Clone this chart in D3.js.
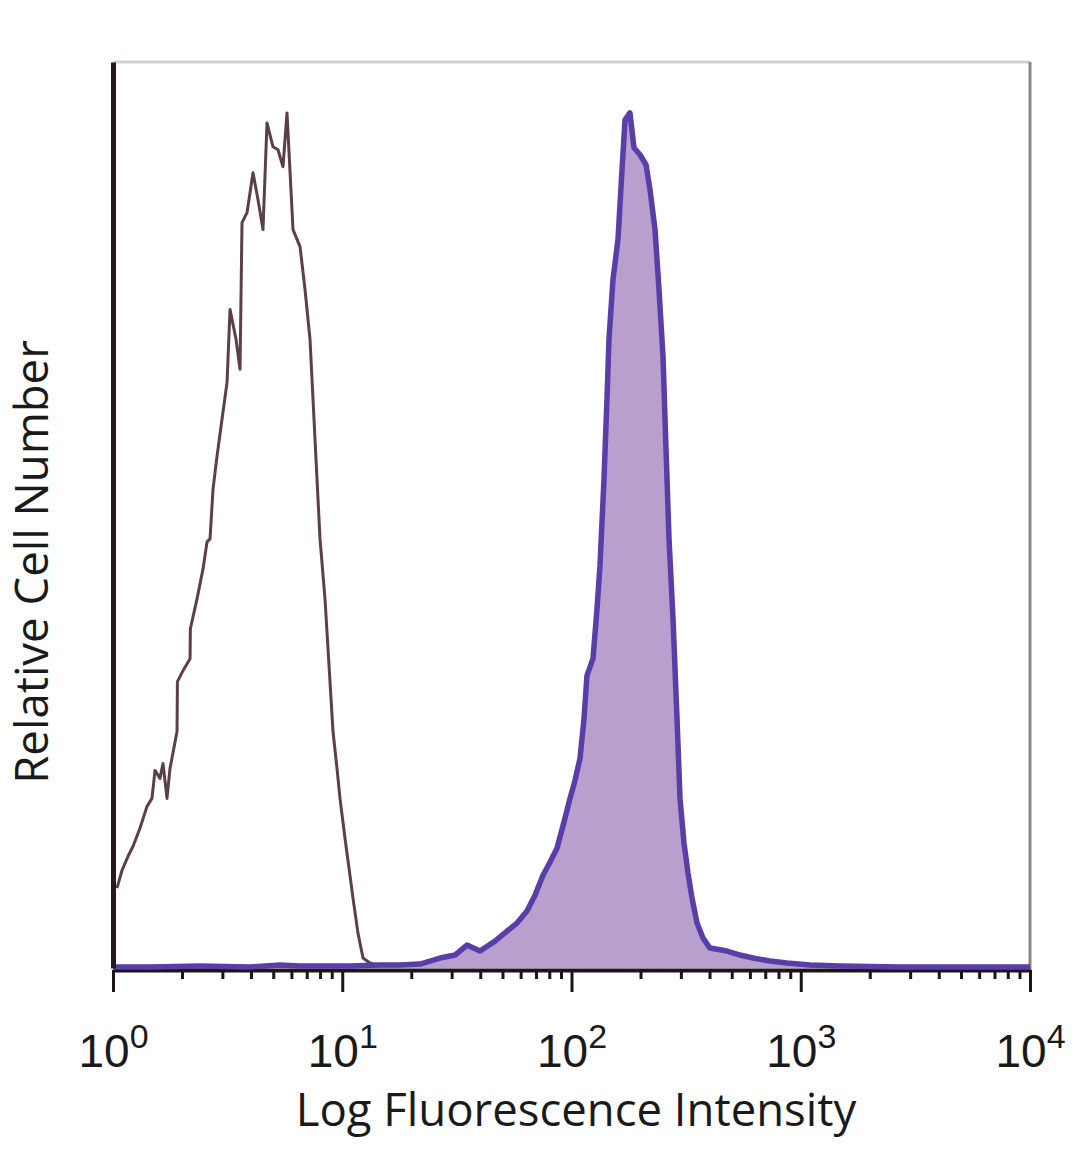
<!DOCTYPE html>
<html>
<head>
<meta charset="utf-8">
<script src="https://cdn.jsdelivr.net/npm/d3@7"></script>
<style>
  body { margin: 0; background: #fff; }
  svg { display: block; }
</style>
</head>
<body>
<div id="chart"></div>
<script>
// isotype control (open histogram): fluorescence value, relative count
var isoX = [1.041, 1.095, 1.163, 1.223, 1.311, 1.407, 1.479, 1.525, 1.603, 1.652, 1.720, 1.773,
            1.902, 1.91, 2.020, 2.168, 2.175, 2.325, 2.470, 2.571, 2.650, 2.731, 2.843, 2.989,
            3.144, 3.240, 3.441, 3.581, 3.654, 3.842, 4.081, 4.291, 4.511, 4.696, 4.988, 5.245,
            5.515, 5.741, 6.098, 6.543, 6.880, 7.234, 7.606, 7.998, 8.409, 9.113, 9.486, 9.777,
            10.28, 11.14, 11.71, 12.32, 13.21, 14.18, 16.15];
var isoY = [8.81, 10.79, 12.33, 13.44, 15.42, 17.84, 18.72, 21.81, 20.93, 22.58, 18.72, 22.03,
            26.10, 31.61, 32.82, 34.14, 37.44, 40.75, 44.05, 47.03, 47.36, 52.86, 56.50, 60.57,
            64.65, 72.69, 69.38, 66.08, 82.27, 83.37, 87.78, 84.80, 81.50, 93.28, 90.64, 90.31,
            88.44, 94.38, 81.50, 79.63, 74.89, 69.38, 58.37, 47.36, 40.75, 26.10, 22.03, 18.72,
            14.32, 7.71, 3.85, 1.10, 0.55, 0.33, 0.22];

// stained sample (filled histogram)
var stainX = [1.000, 1.450, 2.396, 3.960, 5.353, 6.543, 10.81, 14.61, 17.86, 21.84, 26.69, 31.03,
              35.01, 39.89, 46.39, 52.32, 57.84, 63.95, 69.32, 75.10, 80.58, 86.44, 93.66, 98.51,
              103.6, 108.9, 113.4, 116.8, 124.1, 129.2, 133.1, 138.6, 142.8, 145.7, 151.7, 159.5,
              166.1, 171.2, 179.9, 187.3, 199.0, 211.4, 220.0, 231.4, 240.8, 250.7, 258.4, 266.3,
              277.2, 288.6, 297.4, 309.6, 322.3, 335.5, 352.8, 374.7, 401.9, 476.8, 543.3, 619.0,
              734.4, 871.0, 1098, 1483, 2710, 4478, 10000];
var stainY = [0.11, 0.11, 0.22, 0.11, 0.33, 0.22, 0.22, 0.33, 0.33, 0.44, 1.10, 1.43,
              2.53, 1.87, 2.97, 4.07, 4.96, 6.28, 8.04, 10.24, 11.67, 13.22, 16.52, 18.72,
              20.70, 23.13, 27.53, 32.27, 34.14, 39.65, 44.38, 53.96, 62.78, 69.38, 75.99, 80.40,
              88.11, 93.61, 94.38, 90.53, 89.76, 88.66, 85.90, 81.50, 74.89, 67.51, 57.27, 47.36,
              38.55, 27.53, 18.72, 13.77, 10.46, 7.71, 4.96, 3.30, 2.20, 1.87, 1.43, 1.10,
              0.77, 0.55, 0.33, 0.22, 0.11, 0.11, 0.11];

var majorTicks = [1, 10, 100, 1000, 10000];
var tickExps = ["0", "1", "2", "3", "4"];
var xTitle = "Log Fluorescence Intensity";
var yTitle = "Relative Cell Number";

var W = 1080, H = 1169,
    pLeft = 113, pRight = 1030, pTop = 62, pBottom = 970;

var x = d3.scaleLog().domain([1, 10000]).range([pLeft, pRight]);
var y = d3.scaleLinear().domain([0, 100]).range([pBottom - 2, pTop]);

var svg = d3.select("#chart").append("svg")
    .attr("width", W)
    .attr("height", H);

var iso = isoX.map(function(v, i) { return [v, isoY[i]]; });
var stain = stainX.map(function(v, i) { return [v, stainY[i]]; });

var minor = [];
for (var e = 0; e < 4; e++) {
  for (var m = 2; m < 10; m++) minor.push(m * Math.pow(10, e));
}

// frame: top light, right grey
svg.append("line")
    .attr("x1", pLeft).attr("x2", pRight).attr("y1", pTop).attr("y2", pTop)
    .attr("stroke", "#d4d0d0").attr("stroke-width", 3);
svg.append("line")
    .attr("x1", pRight).attr("x2", pRight).attr("y1", pTop).attr("y2", pBottom)
    .attr("stroke", "#8a8686").attr("stroke-width", 3);

// filled histogram
svg.append("path")
    .datum(stain)
    .attr("fill", "#b89fce")
    .attr("d", d3.area()
        .x(function(d) { return x(d[0]); })
        .y0(y(0))
        .y1(function(d) { return y(d[1]); }));

// open histogram
svg.append("path")
    .datum(iso)
    .attr("fill", "none")
    .attr("stroke", "#5a404a")
    .attr("stroke-width", 3)
    .attr("stroke-linejoin", "round")
    .attr("d", d3.line()
        .x(function(d) { return x(d[0]); })
        .y(function(d) { return y(d[1]); }));

// bottom axis
var gx = svg.append("g")
    .attr("transform", "translate(0," + pBottom + ")");

gx.append("g")
    .call(d3.axisBottom(x).tickValues(minor).tickSize(9).tickSizeOuter(0).tickFormat(""))
    .call(function(g) { g.select(".domain").remove(); })
    .selectAll("line").attr("stroke", "#1c1418").attr("stroke-width", 3);

var major = gx.append("g")
    .call(d3.axisBottom(x).tickValues(majorTicks).tickSize(22).tickSizeOuter(0).tickPadding(42));
major.select(".domain").attr("stroke", "#1c1418").attr("stroke-width", 4);
major.selectAll("line").attr("stroke", "#1c1418").attr("stroke-width", 3);
major.selectAll("text")
    .attr("fill", "#1a1a1a")
    .attr("font-family", "'Liberation Sans', Arial, sans-serif")
    .attr("font-size", 46)
    .text(null)
    .each(function(d, i) {
      var t = d3.select(this);
      t.append("tspan").text("10");
      t.append("tspan").attr("dy", -19).attr("font-size", 34).text(tickExps[i]);
    });

// stained outline on top
svg.append("path")
    .datum(stain)
    .attr("fill", "none")
    .attr("stroke", "#5a3ea8")
    .attr("stroke-width", 5.5)
    .attr("stroke-linejoin", "round")
    .attr("d", d3.line()
        .x(function(d) { return x(d[0]); })
        .y(function(d) { return y(d[1]); }));

// left axis
svg.append("g")
    .attr("transform", "translate(" + pLeft + ",0)")
    .call(d3.axisLeft(y).tickValues([]).tickSizeOuter(0))
    .select(".domain")
    .attr("stroke", "#2a1820").attr("stroke-width", 5);

// titles
svg.append("text")
    .attr("x", 576).attr("y", 1126)
    .attr("text-anchor", "middle")
    .attr("font-family", "'Open Sans', sans-serif")
    .attr("font-size", 45.5)
    .attr("fill", "#1a1a1a")
    .text(xTitle);

svg.append("text")
    .attr("transform", "translate(48,562) rotate(-90)")
    .attr("text-anchor", "middle")
    .attr("font-family", "'Open Sans', sans-serif")
    .attr("font-size", 45.5)
    .attr("fill", "#1a1a1a")
    .text(yTitle);
</script>
</body>
</html>
